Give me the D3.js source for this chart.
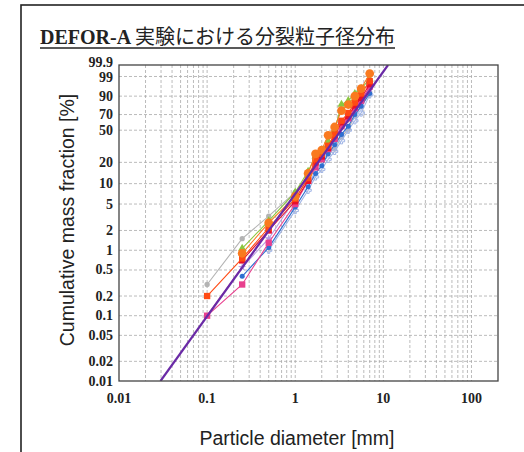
<!DOCTYPE html>
<html>
<head>
<meta charset="utf-8">
<script src="https://cdn.jsdelivr.net/npm/d3@7"></script>
<style>
  body { margin: 0; background: #fff; }
  svg { display: block; }
</style>
</head>
<body>
<script>
// sieve sizes [mm]
let sizes = [0.1, 0.25, 0.5, 1, 1.4, 1.7, 2, 2.36, 2.8, 3.35, 4, 4.75, 5.6, 7];

// cumulative mass fraction [%] per run, null = no point
let runOrange   = [null, 0.9, 2.6, 6.5, 14, 26, 29, 44, 54, 75, 82, 90, 95, 99.4];
let runOrangeSq = [0.2, 0.75, 2.2, 6, 12, 22, 26, 33, 45, 62, 72, 84, 92, 98];
let runRed      = [null, 0.7, 2.0, 5.5, 11, 20, 24, 31, 44, 60, 68, 81, 88.5, 97];
let runGreen    = [null, 1.07, 2.8, 7.5, 15, 24, 28, 38, 50, 82, 86, 92, 95, 98.5];
let runGrey     = [0.3, 1.5, 3.3, 7.5, 13, 18, 22, 26, 30, 42, 52, 68, 80, 93];
let runBlue     = [null, 0.4, 1.1, 4.5, 9, 14, 18, 26, 34, 45, 55, 70, 80, 92];
let runLtBlue   = [null, null, 1.0, 4.0, 8, 12.5, 16, 22, 28, 38, 50, 62, 72, 91];
let runMagenta  = [0.1, 0.3, 1.3, 5, 11, 17, 22, 30, 40, 55, 65, 78, 86, 96];
let runLavender = [null, 0.55, 1.5, 6, 12, 19, 24, 32, 42, 58, 66, 76, 85, 95];

// fitted Rosin-Rammler line end points
let fitD = [0.0296, 11.3];
let fitF = [0.01, 99.9];
let fit2D = [0.1, 8];
let fit2F = [0.1, 97];

let xTicks = [0.01, 0.1, 1, 10, 100];
let yTicks = [0.01, 0.02, 0.05, 0.1, 0.2, 0.5, 1, 2, 5, 10, 20, 50, 70, 90, 99, 99.9];
let yTickLabels = ["0.01", "0.02", "0.05", "0.1", "0.2", "0.5", "1", "2", "5", "10", "20", "50", "70", "90", "99", "99.9"];

let runs = [
    {v: runGrey, color: "#b3b3b3", shape: d3.symbolCircle, size: 22},
    {v: runLtBlue, color: "#9fb4e6", shape: d3.symbolCross, size: 22},
    {v: runLavender, color: "#b99be3", shape: d3.symbolStar, size: 22},
    {v: runBlue, color: "#2f6fd0", shape: d3.symbolCircle, size: 20},
    {v: runGreen, color: "#8cc63f", shape: d3.symbolTriangle, size: 28},
    {v: runMagenta, color: "#e8408e", shape: d3.symbolSquare, size: 40},
    {v: runRed, color: "#e8102a", shape: d3.symbolSquare, size: 40},
    {v: runOrangeSq, color: "#ff4a14", shape: d3.symbolSquare, size: 40},
    {v: runOrange, color: "#f97a1f", shape: d3.symbolCircle, size: 60}
];

let W = 524, H = 452;
let margin = {top: 65, left: 119, right: 26, bottom: 71};

let svg = d3.select("body").append("svg")
    .attr("width", W)
    .attr("height", H);

// outer frame
svg.append("rect")
    .attr("x", 21).attr("y", 5)
    .attr("width", 520).attr("height", 460)
    .attr("fill", "none")
    .attr("stroke", "#222")
    .attr("stroke-width", 1.6);

// title
let title = svg.append("text")
    .attr("x", 40).attr("y", 44)
    .style("font-family", "'Liberation Serif', 'Noto Sans CJK JP', serif")
    .style("font-size", "20px")
    .style("fill", "#222");
title.append("tspan").style("font-weight", "bold").text("DEFOR-A ");
title.append("tspan").text("実験における分裂粒子径分布");
let tb = title.node().getBBox();
svg.append("line")
    .attr("x1", tb.x).attr("x2", tb.x + tb.width)
    .attr("y1", 48).attr("y2", 48)
    .attr("stroke", "#222").attr("stroke-width", 1.3);

// Rosin-Rammler probability scale
let rr = p => Math.log(-Math.log(1 - p / 100));
let x = d3.scaleLog().domain([0.01, 200]).range([margin.left, W - margin.right]);
let yLin = d3.scaleLinear().domain([rr(0.01), rr(99.9)]).range([H - margin.bottom, margin.top]);
let y = p => yLin(rr(p));

let x0 = margin.left, x1 = W - margin.right, y0 = H - margin.bottom, y1 = margin.top;

// grid
let grid = svg.append("g").attr("stroke", "#aaa").attr("stroke-dasharray", "3,2").attr("stroke-width", 0.8);
let xGrid = x.ticks().filter(d => d > 0.01 && d < 200);
grid.selectAll("line.vx").data(xGrid).enter().append("line")
    .attr("x1", d => x(d)).attr("x2", d => x(d))
    .attr("y1", y1).attr("y2", y0);
grid.selectAll("line.hy").data(yTicks.slice(1, -1)).enter().append("line")
    .attr("x1", x0).attr("x2", x1)
    .attr("y1", d => y(d)).attr("y2", d => y(d));

// clip for data
svg.append("clipPath").attr("id", "plot")
    .append("rect").attr("x", x0).attr("y", y1).attr("width", x1 - x0).attr("height", y0 - y1);

let plot = svg.append("g").attr("clip-path", "url(#plot)");
let line = d3.line().defined(d => d[1] != null).x(d => x(d[0])).y(d => y(d[1]));

runs.forEach(r => {
    let pts = sizes.map((s, i) => [s, r.v[i]]).filter(d => d[1] != null);
    plot.append("path")
        .datum(pts)
        .attr("d", line)
        .attr("fill", "none")
        .attr("stroke", r.color)
        .attr("stroke-width", 1.1);
    plot.selectAll(null).data(pts).enter().append("path")
        .attr("transform", d => `translate(${x(d[0])},${y(d[1])})`)
        .attr("d", d3.symbol().type(r.shape).size(r.size))
        .attr("fill", r.shape === d3.symbolCross ? "none" : r.color)
        .attr("stroke", r.shape === d3.symbolCross ? r.color : "none");
});

// fitted lines
plot.append("path")
    .datum(fit2D.map((d, i) => [d, fit2F[i]]))
    .attr("d", line)
    .attr("fill", "none").attr("stroke", "#d8489a").attr("stroke-width", 1.2);
plot.append("path")
    .datum(fitD.map((d, i) => [d, fitF[i]]))
    .attr("d", line)
    .attr("fill", "none").attr("stroke", "#6a2aa6").attr("stroke-width", 2.2);

// frame of the plot
svg.append("rect")
    .attr("x", x0).attr("y", y1)
    .attr("width", x1 - x0).attr("height", y0 - y1)
    .attr("fill", "none").attr("stroke", "#444").attr("stroke-width", 1.3);

// tick labels
let tickFont = "'Liberation Serif', 'DejaVu Serif', serif";
svg.selectAll("text.xt").data(xTicks).enter().append("text")
    .attr("x", d => x(d)).attr("y", 403)
    .attr("text-anchor", "middle")
    .style("font-family", tickFont).style("font-weight", "bold").style("font-size", "14px")
    .style("fill", "#222")
    .text(d => d3.format("~g")(d));
svg.selectAll("text.yt").data(yTicks).enter().append("text")
    .attr("x", 113).attr("y", (d, i) => y(d) + (i === yTicks.length - 1 ? 2 : i === yTicks.length - 2 ? 6 : 4.5))
    .attr("text-anchor", "end")
    .style("font-family", tickFont).style("font-weight", "bold").style("font-size", "14px")
    .style("fill", "#222")
    .text((d, i) => yTickLabels[i]);

// axis titles
svg.append("text")
    .attr("x", 297).attr("y", 445)
    .attr("text-anchor", "middle")
    .style("font-family", "'Liberation Sans', Arial, sans-serif")
    .style("font-size", "19.5px").style("fill", "#222")
    .text("Particle diameter [mm]");
svg.append("text")
    .attr("transform", "translate(74,220) rotate(-90)")
    .attr("text-anchor", "middle")
    .style("font-family", "'Liberation Sans', Arial, sans-serif")
    .style("font-size", "19.5px").style("fill", "#222")
    .text("Cumulative mass fraction [%]");
</script>
</body>
</html>
